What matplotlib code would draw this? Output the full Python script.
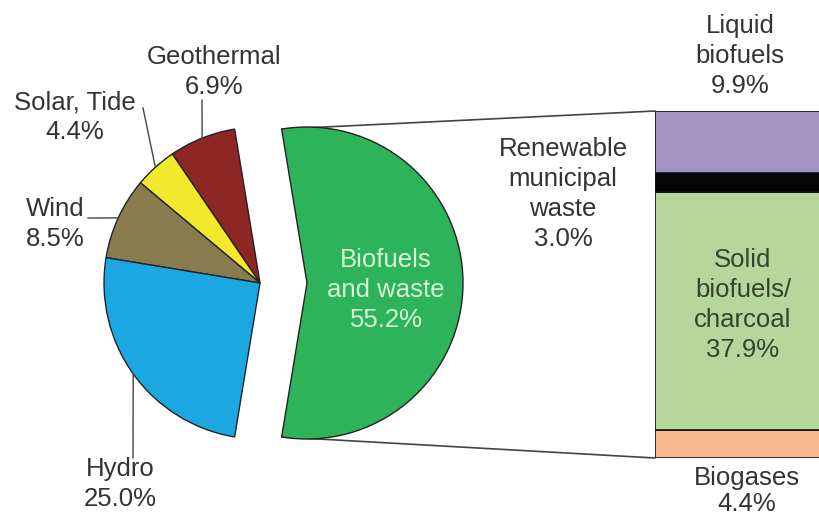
import matplotlib
matplotlib.use('Agg')
import matplotlib.pyplot as plt
import numpy as np
from matplotlib.patches import ConnectionPatch

# Fatias do grafico de pizza (sentido anti-horario a partir da fatia destacada).
fontes = ['Biofuels\nand waste', 'Geothermal', 'Solar, Tide', 'Wind', 'Hydro']
valores = [55.2, 6.9, 4.4, 8.5, 25.0]
cores_pizza = ['#2db35a', '#8e2626', '#f2e92c', '#8a7b4e', '#1ba8e2']

# Barra empilhada (de baixo para cima).
sub_fontes = ['Biogases', 'Solid\nbiofuels/\ncharcoal', 'Renewable\nmunicipal\nwaste', 'Liquid\nbiofuels']
sub_valores = [4.4, 37.9, 3.0, 9.9]
cores_barra = ['#f8b98c', '#b6d69b', '#050505', '#a293c3']

L, H = 820, 518
plt.rcParams['font.family'] = ['Liberation Sans', 'DejaVu Sans']

fig = plt.figure(figsize=(L / 100, H / 100), dpi=100)
ax = fig.add_axes([0, 0, 1, 1])

# Coordenadas em pixels (y de cima para baixo convertido).
def py(y):
    return H - y

centro = (260, py(283))
raio = 156
inicio = -valores[0] / 100 * 360 / 2

fatias, _ = ax.pie(
    valores,
    colors=cores_pizza,
    startangle=inicio,
    radius=raio,
    center=centro,
    explode=[47, 0, 0, 0, 0],  # em unidades de dados (pixels)
    wedgeprops=dict(edgecolor='#222222', linewidth=1.0),
)
ax.set_xlim(0, L)
ax.set_ylim(0, H)
ax.set_aspect('equal')
ax.axis('off')

cor_texto = '#333333'
tam = 18.5
esp = 1.3

# Rotulos externos com linhas guia.
rotulos = {
    1: ((214, 72), (202, 100)),
    2: ((75, 117), (143, 108)),
    3: ((55, 224), (88, 218)),
    4: ((120, 484), (133, 458)),
}
for i, ((tx, ty), (lx, ly)) in rotulos.items():
    w = fatias[i]
    meio = np.deg2rad((w.theta1 + w.theta2) / 2)
    x0 = w.center[0] + w.r * np.cos(meio)
    y0 = w.center[1] + w.r * np.sin(meio)
    ax.plot([x0, lx], [y0, py(ly)], color='#444444', linewidth=1)
    ax.text(tx, py(ty), f'{fontes[i]}\n{valores[i]:.1f}%', ha='center', va='center',
            fontsize=tam, color=cor_texto, linespacing=esp)

ax.text(386, py(290), f'{fontes[0]}\n{valores[0]:.1f}%', ha='center', va='center',
        fontsize=tam, color='#d8f6d3', linespacing=esp)

# Barra empilhada.
ax_barra = fig.add_axes([655 / L, 60 / H, 165 / L, 347 / H])
base = np.concatenate([[0], np.cumsum(sub_valores)[:-1]])
ax_barra.bar(0, sub_valores, bottom=base, width=1, color=cores_barra,
             edgecolor='#111111', linewidth=1.2)
ax_barra.set_xlim(-0.5, 0.49)
ax_barra.set_ylim(0, sum(sub_valores))
ax_barra.axis('off')

# Eixo principal por cima, para os textos ficarem sobre a barra.
ax.set_zorder(2)
ax.patch.set_visible(False)

# Linhas ligando a fatia destacada a barra.
w = fatias[0]
for ang, yb in ((w.theta2, sum(sub_valores)), (w.theta1, 0)):
    a = np.deg2rad(ang)
    ponto = (w.center[0] + w.r * np.cos(a), w.center[1] + w.r * np.sin(a))
    con = ConnectionPatch(xyA=ponto, coordsA=ax.transData, xyB=(-0.5, yb),
                          coordsB=ax_barra.transData, color='#444444', linewidth=1.2)
    fig.add_artist(con)

pos_sub = [(747, 466, 'top', 1.1), (743, 305, 'center', esp),
           (563, 194, 'center', esp), (740, 56, 'center', esp)]
cores_sub = [cor_texto, '#34432c', cor_texto, cor_texto]
for nome, v, (tx, ty, va, ls), c in zip(sub_fontes, sub_valores, pos_sub, cores_sub):
    ax.text(tx, py(ty), f'{nome}\n{v:.1f}%', ha='center', va=va,
            fontsize=tam, color=c, linespacing=ls)

plt.savefig('out.png', dpi=100)
plt.close()
